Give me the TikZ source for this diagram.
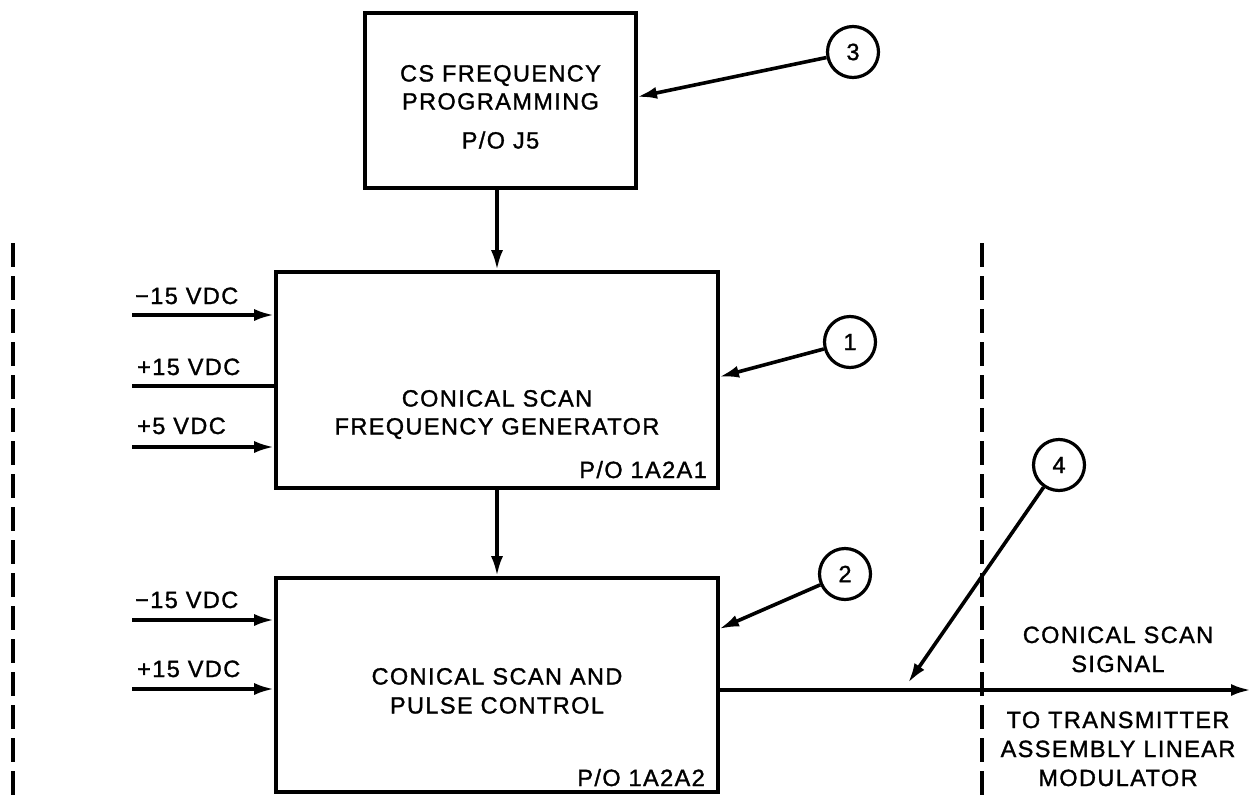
\documentclass[tikz,border=0pt]{standalone}
\usepackage{fontspec}
\setmainfont{Liberation Sans}[LetterSpace=6,FakeBold=1.3]
\usetikzlibrary{arrows.meta}
\begin{document}
\begin{tikzpicture}[x=1pt,y=-1pt,
  every node/.style={font=\fontsize{23.5}{28}\selectfont},
  blk/.style={draw,line width=3.6pt,inner sep=0pt},
  txt/.style={inner sep=0pt,anchor=base},
  lbl/.style={inner sep=0pt,anchor=base west},
  tag/.style={inner sep=0pt,anchor=base east},
  callout/.style={draw,circle,line width=3.2pt,minimum size=51pt,inner sep=0pt},
  arr/.style={line width=3.6pt,-{Latex[length=20pt,width=12pt]}},
  ln/.style={line width=3.6pt},
  bound/.style={line width=3.6pt,dash pattern=on 24pt off 9pt}]
\useasboundingbox (0,0) rectangle (1252,795);
% blocks
\node[blk,minimum width=271pt,minimum height=175pt] (top) at (500.5,100.5) {};
\node[blk,minimum width=442pt,minimum height=216pt] (b1) at (497,380) {};
\node[blk,minimum width=442pt,minimum height=214pt] (b2) at (497,685) {};
% block texts
\node[txt] (t1a) at (500.5,81.5) {CS FREQUENCY};
\node[txt] (t1b) at (500.5,109.5) {PROGRAMMING};
\node[txt] (t1c) at (500.5,148.5) {P/O J5};
\node[txt] (t2a) at (497,406.5) {CONICAL SCAN};
\node[txt] (t2b) at (497,434.5) {FREQUENCY GENERATOR};
\node[tag] (t2c) at (707,478) {P/O 1A2A1};
\node[txt] (t3a) at (497,684.5) {CONICAL SCAN AND};
\node[txt] (t3b) at (497,713.5) {PULSE CONTROL};
\node[tag] (t3c) at (705,786) {P/O 1A2A2};
% right texts
\node[txt] (r1) at (1118,643) {CONICAL SCAN};
\node[txt] (r2) at (1118,672) {SIGNAL};
\node[txt] (r3) at (1118,728) {TO TRANSMITTER};
\node[txt] (r4) at (1118,757) {ASSEMBLY LINEAR};
\node[txt] (r5) at (1118,786) {MODULATOR};
% left labels
\node[lbl] (l1) at (135,304) {−15 VDC};
\node[lbl] (l2) at (137,375) {+15 VDC};
\node[lbl] (l3) at (137,434) {+5 VDC};
\node[lbl] (l4) at (135,608) {−15 VDC};
\node[lbl] (l5) at (137,677) {+15 VDC};
% input coordinates
\coordinate (i1) at (132,315);
\coordinate (i2) at (132,386);
\coordinate (i3) at (132,447);
\coordinate (i4) at (132,620);
\coordinate (i5) at (132,689);
\draw[arr] (i1) -- (i1 -| b1.west);
\draw[ln] (i2) -- (i2 -| b1.west);
\draw[arr] (i3) -- (i3 -| b1.west);
\draw[arr] (i4) -- (i4 -| b2.west);
\draw[arr] (i5) -- (i5 -| b2.west);
% flow arrows
\draw[arr] (b1.north |- top.south) -- (b1.north);
\draw[arr] (b1.south) -- (b2.north);
% output
\coordinate (out) at (1251,690);
\draw[arr] (b2.east |- out) -- (out);
% boundaries
\coordinate (dl1) at (13,243);
\coordinate (dl2) at (13,795);
\coordinate (dr1) at (982,243);
\coordinate (dr2) at (982,795);
\draw[bound] (dl1) -- (dl2);
\draw[bound] (dr1) -- (dr2);
% callouts
\node[callout] (c3) at (853,52) {3};
\node[callout] (c1) at (850,342) {1};
\node[callout] (c2) at (845,574) {2};
\node[callout] (c4) at (1059,465) {4};
\coordinate (p3) at (637,97);
\coordinate (p1) at (719,377);
\coordinate (p2) at (719,629);
\coordinate (p4) at (908,683);
\draw[arr] (c3) -- (p3);
\draw[arr] (c1) -- (p1);
\draw[arr] (c2) -- (p2);
\draw[arr] (c4) -- (p4);
\end{tikzpicture}
\end{document}
